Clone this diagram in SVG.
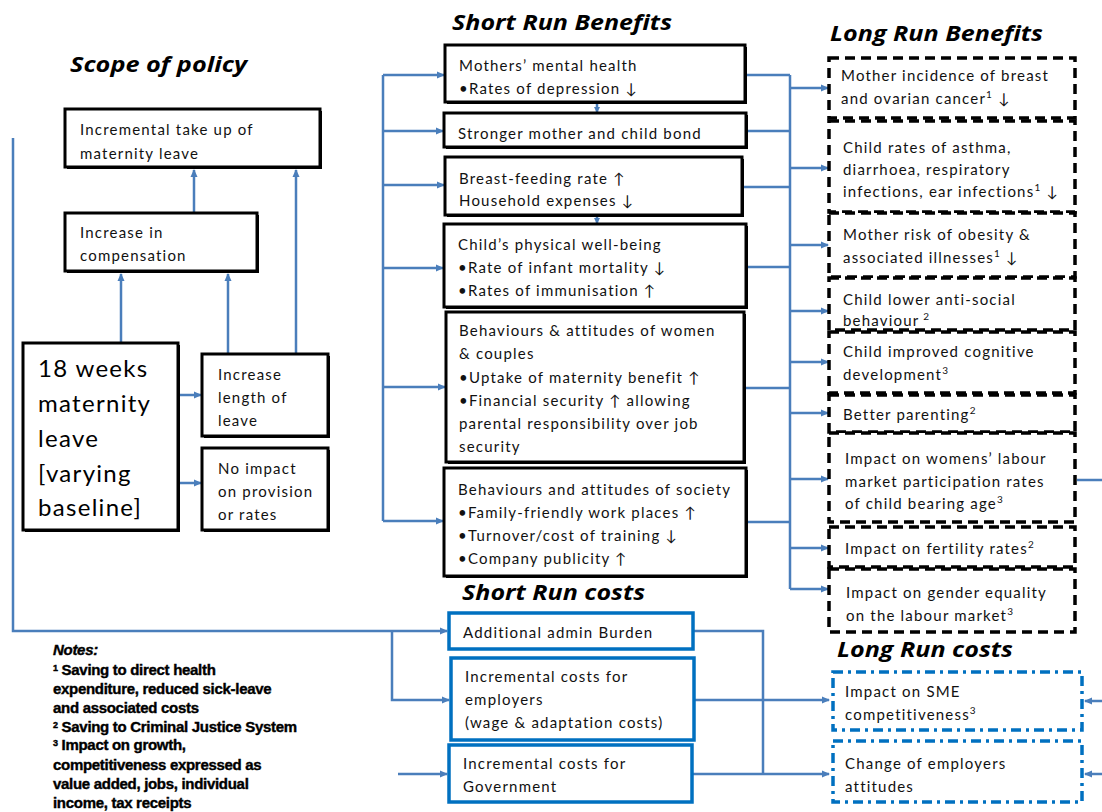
<svg xmlns="http://www.w3.org/2000/svg" width="1102" height="812" viewBox="0 0 1102 812">
<defs>
<marker id="ah" markerWidth="8" markerHeight="8" refX="7" refY="4" orient="auto" markerUnits="userSpaceOnUse"><path d="M0,0.5 L8,4 L0,7.5 z" fill="#4a7ebb"/></marker>
<marker id="ahs" markerWidth="6" markerHeight="6" refX="5" refY="3" orient="auto" markerUnits="userSpaceOnUse"><path d="M0,0 L6,3 L0,6 z" fill="#4a7ebb"/></marker>
<style>
.conn{fill:none;stroke:#4a7ebb;stroke-width:2.5}
.box{fill:#fff;stroke:#000;stroke-width:3}
.sh{fill:#000}
.lrb{fill:#fff;stroke:#000;stroke-width:3.5;stroke-dasharray:10 6}
.lrc{fill:#fff;stroke:#0070c0;stroke-width:3.5;stroke-dasharray:10 5 3 5}
.src{fill:#fff;stroke:#0070c0;stroke-width:3.5}
.t{font-family:Lato,"Open Sans",sans-serif;font-size:15px;fill:#111;letter-spacing:1.2px}
.big{font-family:Lato,"Open Sans",sans-serif;font-size:24px;fill:#000;letter-spacing:1.3px}
.title{font-family:"Open Sans",sans-serif;font-weight:bold;font-style:italic;font-size:22px;fill:#000}
.notes{font-family:"Liberation Sans",Arial,sans-serif;font-weight:bold;font-size:15px;fill:#000;stroke:#000;stroke-width:0.4;letter-spacing:-0.3px}
</style>
</defs>
<rect width="1102" height="812" fill="#fff"/>

<g id="titles">
<text class="title" x="70" y="72" textLength="177" lengthAdjust="spacingAndGlyphs">Scope of policy</text>
<text class="title" x="452" y="30" textLength="220" lengthAdjust="spacingAndGlyphs">Short Run Benefits</text>
<text class="title" x="830" y="41" textLength="213" lengthAdjust="spacingAndGlyphs">Long Run Benefits</text>
<text class="title" x="462" y="600" textLength="183" lengthAdjust="spacingAndGlyphs">Short Run costs</text>
<text class="title" x="837" y="657" textLength="176" lengthAdjust="spacingAndGlyphs">Long Run costs</text>
</g>

<g id="connectors">
<path class="conn" d="M13,138 V631 H447" marker-end="url(#ah)"/>
<path class="conn" d="M392,631 V700 H449" marker-end="url(#ah)"/>
<path class="conn" d="M398,774 H447" marker-end="url(#ah)"/>
<path class="conn" d="M694,631 H763 V774"/>
<path class="conn" d="M694,700 H829" marker-end="url(#ah)"/>
<path class="conn" d="M692,774 H829" marker-end="url(#ah)"/>
<path class="conn" d="M1102,701 H1085" marker-end="url(#ah)"/>
<path class="conn" d="M1102,774 H1085" marker-end="url(#ah)"/>
<path class="conn" d="M1077,480 H1102"/>
<path class="conn" d="M383,75 V521"/>
<path class="conn" d="M383,75 H444" marker-end="url(#ah)"/>
<path class="conn" d="M383,131 H443" marker-end="url(#ah)"/>
<path class="conn" d="M383,185 H444" marker-end="url(#ah)"/>
<path class="conn" d="M383,268 H443" marker-end="url(#ah)"/>
<path class="conn" d="M383,387 H445" marker-end="url(#ah)"/>
<path class="conn" d="M383,521 H443" marker-end="url(#ah)"/>
<path class="conn" d="M597,103 V112" marker-end="url(#ahs)"/>
<path class="conn" d="M597,216 V223" marker-end="url(#ahs)"/>
<path class="conn" d="M747,75 H790"/>
<path class="conn" d="M748,131 H790"/>
<path class="conn" d="M744,187 H790"/>
<path class="conn" d="M748,267 H790"/>
<path class="conn" d="M746,388 H790"/>
<path class="conn" d="M748,522 H790"/>
<path class="conn" d="M790,75 V589"/>
<path class="conn" d="M790,88 H828" marker-end="url(#ah)"/>
<path class="conn" d="M790,168 H828" marker-end="url(#ah)"/>
<path class="conn" d="M790,245 H828" marker-end="url(#ah)"/>
<path class="conn" d="M790,311 H828" marker-end="url(#ah)"/>
<path class="conn" d="M790,362 H828" marker-end="url(#ah)"/>
<path class="conn" d="M790,413 H828" marker-end="url(#ah)"/>
<path class="conn" d="M790,479 H828" marker-end="url(#ah)"/>
<path class="conn" d="M790,548 H828" marker-end="url(#ah)"/>
<path class="conn" d="M790,589 H828" marker-end="url(#ah)"/>
<path class="conn" d="M194,213 V170" marker-end="url(#ah)"/>
<path class="conn" d="M296,354 V170" marker-end="url(#ah)"/>
<path class="conn" d="M121,343 V274" marker-end="url(#ah)"/>
<path class="conn" d="M228,354 V274" marker-end="url(#ah)"/>
<path class="conn" d="M180,395 H201" marker-end="url(#ah)"/>
<path class="conn" d="M180,483 H201" marker-end="url(#ah)"/>
</g>

<g id="n-takeup"><rect class="sh" x="67" y="111" width="255" height="58"/><rect class="box" x="65" y="109" width="255" height="58"/>
<text class="t" x="80" y="135">Incremental take up of</text><text class="t" x="80" y="159">maternity leave</text></g>
<g id="n-comp"><rect class="sh" x="67" y="215" width="192" height="58"/><rect class="box" x="65" y="213" width="192" height="58"/>
<text class="t" x="80" y="238">Increase in</text><text class="t" x="80" y="261">compensation</text></g>
<g id="n-18wk"><rect class="sh" x="25" y="345" width="155" height="187"/><rect class="box" x="23" y="343" width="155" height="187"/>
<text class="big" x="38" y="377">18 weeks</text><text class="big" x="38" y="412">maternity</text><text class="big" x="38" y="447">leave</text><text class="big" x="38" y="482">[varying</text><text class="big" x="38" y="516">baseline]</text></g>
<g id="n-length"><rect class="sh" x="204" y="356" width="126" height="82"/><rect class="box" x="202" y="354" width="126" height="82"/>
<text class="t" x="218" y="380">Increase</text><text class="t" x="218" y="403">length of</text><text class="t" x="218" y="426">leave</text></g>
<g id="n-noimpact"><rect class="sh" x="204" y="450" width="126" height="82"/><rect class="box" x="202" y="448" width="126" height="82"/>
<text class="t" x="218" y="474">No impact</text><text class="t" x="218" y="497">on provision</text><text class="t" x="218" y="520">or rates</text></g>

<g id="n-mental"><rect class="sh" x="447" y="47" width="300" height="57"/><rect class="box" x="445" y="45" width="300" height="57"/>
<text class="t" x="459" y="71">Mothers’ mental health</text><text class="t" x="459" y="94">•Rates of depression ↓</text></g>
<g id="n-bond"><rect class="sh" x="446" y="115" width="302" height="34"/><rect class="box" x="444" y="113" width="302" height="34"/>
<text class="t" x="458" y="139">Stronger mother and child bond</text></g>
<g id="n-breast"><rect class="sh" x="447" y="159" width="297" height="58"/><rect class="box" x="445" y="157" width="297" height="58"/>
<text class="t" x="459" y="184">Breast-feeding rate ↑</text><text class="t" x="459" y="206">Household expenses ↓</text></g>
<g id="n-child"><rect class="sh" x="446" y="226" width="302" height="83"/><rect class="box" x="444" y="224" width="302" height="83"/>
<text class="t" x="458" y="250">Child’s physical well-being</text><text class="t" x="458" y="273">•Rate of infant mortality ↓</text><text class="t" x="458" y="296">•Rates of immunisation ↑</text></g>
<g id="n-women"><rect class="sh" x="448" y="314" width="298" height="150"/><rect class="box" x="446" y="312" width="298" height="150"/>
<text class="t" x="459" y="336">Behaviours &amp; attitudes of women</text><text class="t" x="459" y="359">&amp; couples</text><text class="t" x="459" y="383">•Uptake of maternity benefit ↑</text><text class="t" x="459" y="406">•Financial security ↑ allowing</text><text class="t" x="459" y="429">parental responsibility over job</text><text class="t" x="459" y="452">security</text></g>
<g id="n-society"><rect class="sh" x="446" y="470" width="302" height="108"/><rect class="box" x="444" y="468" width="302" height="108"/>
<text class="t" x="458" y="495">Behaviours and attitudes of society</text><text class="t" x="458" y="518">•Family-friendly work places ↑</text><text class="t" x="458" y="541">•Turnover/cost of training ↓</text><text class="t" x="458" y="564">•Company publicity ↑</text></g>

<g id="n-cancer"><rect class="lrb" x="829" y="58" width="246" height="60"/>
<text class="t" x="841" y="81">Mother incidence of breast</text><text class="t" x="841" y="104">and ovarian cancer<tspan font-size="10" dy="-6">1</tspan><tspan dy="6"> ↓</tspan></text></g>
<g id="n-asthma"><rect class="lrb" x="829" y="121" width="246" height="91"/>
<text class="t" x="843" y="153">Child rates of asthma,</text><text class="t" x="843" y="175">diarrhoea, respiratory</text><text class="t" x="843" y="197">infections, ear infections<tspan font-size="10" dy="-6">1</tspan><tspan dy="6"> ↓</tspan></text></g>
<g id="n-obesity"><rect class="lrb" x="829" y="213" width="246" height="64"/>
<text class="t" x="843" y="240">Mother risk of obesity &amp;</text><text class="t" x="843" y="263">associated illnesses<tspan font-size="10" dy="-6">1</tspan><tspan dy="6"> ↓</tspan></text></g>
<g id="n-antisocial"><rect class="lrb" x="829" y="278" width="246" height="52"/>
<text class="t" x="843" y="305">Child lower anti-social</text><text class="t" x="843" y="326">behaviour<tspan font-size="10" dy="-6"> 2</tspan></text></g>
<g id="n-cognitive"><rect class="lrb" x="829" y="332" width="246" height="61"/>
<text class="t" x="843" y="357">Child improved cognitive</text><text class="t" x="843" y="380">development<tspan font-size="10" dy="-6">3</tspan></text></g>
<g id="n-parenting"><rect class="lrb" x="829" y="395" width="246" height="37"/>
<text class="t" x="843" y="420">Better parenting<tspan font-size="10" dy="-6">2</tspan></text></g>
<g id="n-womens"><rect class="lrb" x="829" y="433" width="246" height="89"/>
<text class="t" x="845" y="464">Impact on womens’ labour</text><text class="t" x="845" y="487">market participation rates</text><text class="t" x="845" y="509">of child bearing age<tspan font-size="10" dy="-6">3</tspan></text></g>
<g id="n-fertility"><rect class="lrb" x="829" y="527" width="246" height="40"/>
<text class="t" x="845" y="554">Impact on fertility rates<tspan font-size="10" dy="-6">2</tspan></text></g>
<g id="n-gender"><rect class="lrb" x="829" y="569" width="246" height="63"/>
<text class="t" x="846" y="598">Impact on gender equality</text><text class="t" x="846" y="621">on the labour market<tspan font-size="10" dy="-6">3</tspan></text></g>

<g id="n-admin"><rect class="src" x="449" y="613" width="244" height="36"/>
<text class="t" x="463" y="638">Additional admin Burden</text></g>
<g id="n-employers"><rect class="src" x="451" y="658" width="243" height="82"/>
<text class="t" x="465" y="682">Incremental costs for</text><text class="t" x="465" y="705">employers</text><text class="t" x="465" y="728">(wage &amp; adaptation costs)</text></g>
<g id="n-gov"><rect class="src" x="449" y="745" width="243" height="57"/>
<text class="t" x="463" y="769">Incremental costs for</text><text class="t" x="463" y="792">Government</text></g>

<g id="n-sme"><rect class="lrc" x="833" y="672" width="249" height="58"/>
<text class="t" x="845" y="697">Impact on SME</text><text class="t" x="845" y="720">competitiveness<tspan font-size="10" dy="-6">3</tspan></text></g>
<g id="n-attitudes"><rect class="lrc" x="833" y="741" width="249" height="61"/>
<text class="t" x="845" y="769">Change of employers</text><text class="t" x="845" y="792">attitudes</text></g>

<g id="notes">
<text class="notes" x="53" y="655" font-style="italic">Notes:</text>
<text class="notes" x="53" y="675"><tspan font-size="9" dy="-4">1</tspan><tspan dy="4"> Saving to direct health</tspan></text>
<text class="notes" x="53" y="694">expenditure, reduced sick-leave</text>
<text class="notes" x="53" y="713">and associated costs</text>
<text class="notes" x="53" y="732"><tspan font-size="9" dy="-4">2</tspan><tspan dy="4"> Saving to Criminal Justice System</tspan></text>
<text class="notes" x="53" y="750"><tspan font-size="9" dy="-4">3</tspan><tspan dy="4"> Impact on growth,</tspan></text>
<text class="notes" x="53" y="770">competitiveness expressed as</text>
<text class="notes" x="53" y="789">value added, jobs, individual</text>
<text class="notes" x="53" y="808">income, tax receipts</text>
</g>
</svg>
